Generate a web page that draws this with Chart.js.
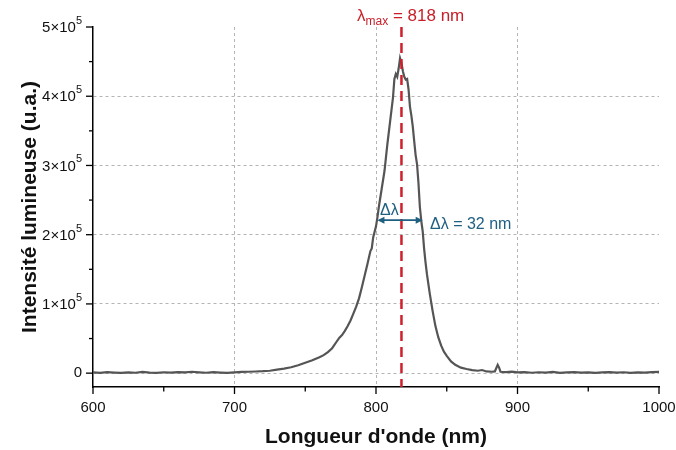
<!DOCTYPE html>
<html>
<head>
<meta charset="utf-8">
<script src="https://cdn.jsdelivr.net/npm/chart.js@4.4.1/dist/chart.umd.min.js"></script>
<style>
  html, body { margin: 0; padding: 0; background: #fff; }
  #wrap { width: 676px; height: 450px; }
</style>
</head>
<body>
<div id="wrap"><canvas id="spectre"></canvas></div>
<script>
// longueurs d'onde (nm)
const wavelengths = [
  600, 605, 610, 615, 620, 625, 630, 635, 640, 645, 650, 655, 660, 665, 670, 675, 680, 685, 690, 695,
  700, 705, 710, 715, 720, 725, 730, 735, 740, 745, 750, 755, 760, 763, 766, 769, 772, 774, 776, 778,
  780, 782, 784, 786, 788, 790, 792, 794, 796, 797, 798, 800, 801, 802, 804, 806, 808, 810, 812, 813,
  814, 815, 816, 817, 818, 819, 820, 821, 822, 823, 824, 825, 826, 827, 828, 829, 830, 831, 832, 833,
  834, 835, 836, 838, 840, 842, 844, 846, 848, 850, 853, 856, 860, 864, 868, 872, 875, 878, 882, 884,
  886, 887, 888, 892, 896, 900, 905, 910, 915, 920, 925, 930, 935, 940, 945, 950, 955, 960, 965, 970,
  975, 980, 985, 990, 995, 1000
];
// intensité (u.a.)
const intensities = [
  1000, 500, 1500, 800, 300, 1200, 600, 1800, 900, 400, 1300, 700, 1600, 1000, 2000, 1200, 600, 1400, 800, 300,
  1000, 1800, 2000, 2400, 2800, 3500, 5000, 6500, 8500, 11500, 15000, 18500, 23000, 26000, 30500, 36000, 45000, 51000, 55000, 61000,
  68000, 76000, 86000, 96000, 108000, 124000, 141000, 158000, 176000, 180000, 196000, 212000, 225000, 240000, 266000, 292000, 330000, 364000, 398000, 425000,
  432000, 428000, 440000, 455000, 448000, 436000, 428000, 424000, 425000, 410000, 385000, 372000, 356000, 335000, 315000, 302000, 275000, 240000, 220000, 205000,
  180000, 160000, 143000, 115000, 90000, 68000, 52000, 40000, 31000, 25000, 17000, 12000, 8000, 6000, 4500, 3500, 4500, 2500, 2000, 2500,
  12000, 8000, 2000, 1500, 2200, 1000, 1600, 600, 1300, 900, 1700, 500, 1100, 1500, 700, 1200, 400, 1000, 1600, 800,
  1300, 500, 1100, 700, 1400, 1800
];

// graduations
const xTicks = [600, 700, 800, 900, 1000];
const yTicks = [0, 100000, 200000, 300000, 400000, 500000];

// annotations
const lambdaMax = 818;
const fwhmLeft = 801;
const fwhmRight = 833;
const fwhmLevel = 221000;
const fwhmValue = 32;

const points = wavelengths.map((w, i) => ({ x: w, y: intensities[i] }));
const FONT = '"Liberation Sans", Arial, sans-serif';

// axes + petites graduations + annotations
const decorPlugin = {
  id: 'decor',
  afterDraw(chart) {
    const { ctx, chartArea, scales } = chart;
    const xs = scales.x, ys = scales.y;
    ctx.save();

    // graduations (vers l'extérieur)
    ctx.strokeStyle = '#000';
    ctx.lineWidth = 1.3;
    for (let v = 600; v <= 1000; v += 50) {
      const px = xs.getPixelForValue(v);
      const len = v % 100 === 0 ? 7 : 4.5;
      ctx.beginPath();
      ctx.moveTo(px, chartArea.bottom);
      ctx.lineTo(px, chartArea.bottom + len);
      ctx.stroke();
    }
    for (let v = 0; v <= 500000; v += 50000) {
      const py = ys.getPixelForValue(v);
      const len = v % 100000 === 0 ? 7 : 4;
      ctx.beginPath();
      ctx.moveTo(chartArea.left, py);
      ctx.lineTo(chartArea.left - len, py);
      ctx.stroke();
    }

    // étiquettes de l'axe y (a×10^5)
    ctx.fillStyle = '#111';
    ctx.textBaseline = 'middle';
    for (const v of yTicks) {
      const py = ys.getPixelForValue(v);
      const right = chartArea.left - 11;
      if (v === 0) {
        ctx.font = '15px ' + FONT;
        ctx.textAlign = 'right';
        ctx.fillText('0', right, py);
        continue;
      }
      ctx.font = '11px ' + FONT;
      const supW = ctx.measureText('5').width;
      ctx.textAlign = 'right';
      ctx.fillText('5', right, py - 6);
      ctx.font = '15px ' + FONT;
      ctx.fillText((v / 100000) + '×10', right - supW, py + 1);
    }

    // ligne lambda max
    const xl = xs.getPixelForValue(lambdaMax);
    ctx.strokeStyle = '#d0202c';
    ctx.lineWidth = 2.5;
    ctx.setLineDash([10, 6]);
    ctx.beginPath();
    ctx.moveTo(xl, chartArea.top);
    ctx.lineTo(xl, chartArea.bottom);
    ctx.stroke();
    ctx.setLineDash([]);

    // texte lambda max
    ctx.fillStyle = '#c8202a';
    ctx.textBaseline = 'alphabetic';
    ctx.textAlign = 'left';
    ctx.font = '17px ' + FONT;
    let tx = 357, ty = 21;
    ctx.fillText('λ', tx, ty);
    tx += ctx.measureText('λ').width;
    ctx.font = '12px ' + FONT;
    ctx.fillText('max', tx, ty + 4);
    tx += ctx.measureText('max').width;
    ctx.font = '17px ' + FONT;
    ctx.fillText(' = ' + lambdaMax + ' nm', tx, ty);

    // flèche largeur à mi-hauteur
    const xa = xs.getPixelForValue(fwhmLeft);
    const xb = xs.getPixelForValue(fwhmRight);
    const ya = ys.getPixelForValue(fwhmLevel);
    const blue = '#1f5f80';
    ctx.strokeStyle = blue;
    ctx.fillStyle = blue;
    ctx.lineWidth = 1.6;
    ctx.beginPath();
    ctx.moveTo(xa + 2, ya);
    ctx.lineTo(xb - 2, ya);
    ctx.stroke();
    ctx.beginPath();
    ctx.moveTo(xa, ya); ctx.lineTo(xa + 7, ya - 3.5); ctx.lineTo(xa + 7, ya + 3.5); ctx.closePath();
    ctx.fill();
    ctx.beginPath();
    ctx.moveTo(xb, ya); ctx.lineTo(xb - 7, ya - 3.5); ctx.lineTo(xb - 7, ya + 3.5); ctx.closePath();
    ctx.fill();

    ctx.font = '16px ' + FONT;
    ctx.textAlign = 'left';
    ctx.fillText('Δλ', 380, 215);
    ctx.fillText('Δλ = ' + fwhmValue + ' nm', 430, 229);

    ctx.restore();
  }
};

const tickFont = { family: FONT, size: 15 };
const titleFont = { family: FONT, size: 21, weight: 'bold' };

new Chart(document.getElementById('spectre'), {
  type: 'line',
  data: {
    datasets: [{
      label: 'Spectre',
      data: points,
      borderColor: '#555555',
      borderWidth: 2.2,
      pointRadius: 0,
      tension: 0,
      fill: false
    }]
  },
  options: {
    responsive: true,
    maintainAspectRatio: false,
    animation: false,
    layout: { padding: { top: 27, right: 17, left: 18, bottom: 0 } },
    plugins: {
      legend: { display: false },
      tooltip: { enabled: false }
    },
    scales: {
      x: {
        type: 'linear',
        min: 600,
        max: 1000,
        afterBuildTicks: s => { s.ticks = xTicks.map(v => ({ value: v })); },
        afterFit: s => { s.height = 63; s.paddingLeft = 0; s.paddingRight = 0; },
        ticks: {
          font: tickFont,
          color: '#111',
          padding: 5,
          maxRotation: 0,
          callback: v => String(v)
        },
        grid: {
          drawTicks: true,
          tickLength: 7,
          tickColor: 'rgba(0,0,0,0)',
          color: ctx => (ctx.tick && (ctx.tick.value === 600 || ctx.tick.value === 1000)) ? 'rgba(0,0,0,0)' : '#b4b4b4',
          lineWidth: 1
        },
        border: { display: true, color: '#000', width: 1.5, dash: [3, 3] },
        title: {
          display: true,
          text: "Longueur d'onde (nm)",
          font: titleFont,
          color: '#111',
          padding: { top: 4, bottom: 0 }
        }
      },
      y: {
        type: 'linear',
        min: -20000,
        max: 500000,
        afterBuildTicks: s => { s.ticks = yTicks.map(v => ({ value: v })); },
        afterFit: s => { s.width = 75; },
        ticks: {
          display: false
        },
        grid: {
          drawTicks: false,
          color: ctx => (ctx.tick && ctx.tick.value === 500000) ? 'rgba(0,0,0,0)' : '#b4b4b4',
          lineWidth: 1
        },
        border: { display: true, color: '#000', width: 1.5, dash: [3, 3] },
        title: {
          display: true,
          text: 'Intensité lumineuse (u.a.)',
          font: titleFont,
          color: '#111',
          padding: { top: 0, bottom: 4 }
        }
      }
    }
  },
  plugins: [decorPlugin]
});
</script>
</body>
</html>
